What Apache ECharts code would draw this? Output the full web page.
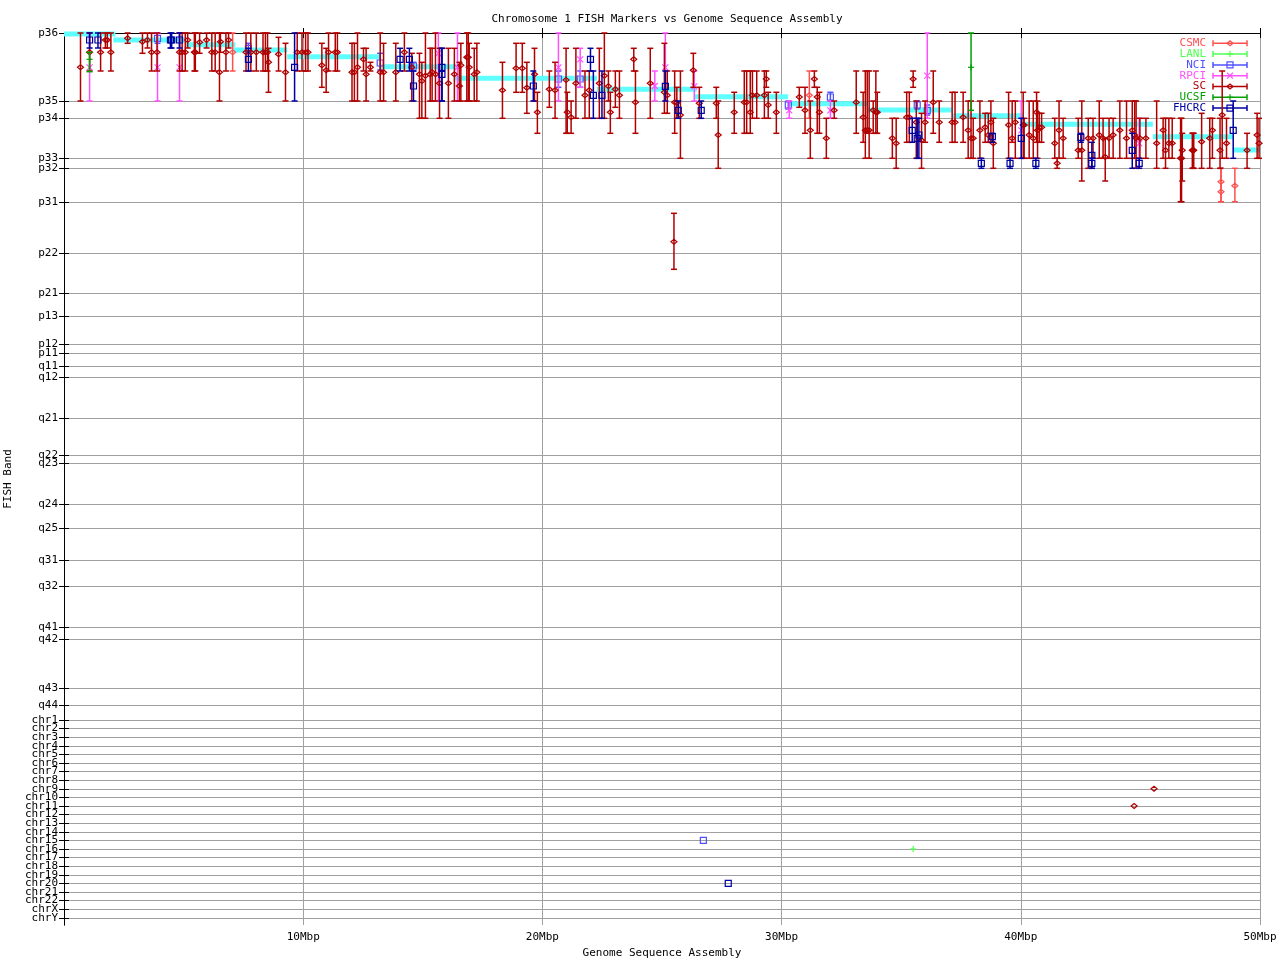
<!DOCTYPE html>
<html><head><meta charset="utf-8">
<script src="https://cdn.jsdelivr.net/npm/echarts@6/dist/echarts.min.js"></script>
<style>html,body{margin:0;padding:0;background:#fff}#c{width:1280px;height:960px}</style>
</head><body><div id="c"></div>
<script>
// ---- axis definitions ----
const bandNames = ['p36','p35','p34','p33','p32','p31','p22','p21','p13','p12','p11','q11','q12','q21','q22','q23','q24','q25','q31','q32','q41','q42','q43','q44',
  'chr1','chr2','chr3','chr4','chr5','chr6','chr7','chr8','chr9','chr10','chr11','chr12','chr13','chr14','chr15','chr16','chr17','chr18','chr19','chr20','chr21','chr22','chrX','chrY'];
const bandPos = [0,68,85,125,135,169,220,260,283,311,320,333,344,385,422,430,471,495,527,553,594,606,655,672,
  687,695.6,704.2,712.8,721.4,730,738.6,747.2,755.8,764.4,773,781.6,790.2,798.8,807.4,816,824.6,833.2,841.8,850.4,859,867.6,876.2,884.8];
const bandMax = 892;
const xTicks = [10,20,30,40,50];

// ---- assembly band assignment (x0 Mbp, x1 Mbp, band position) ----
const assemblySteps = [
  [0,2.15,1],[2.06,5.07,7],[5.07,7.16,11.7],[7.08,9.33,17],[9.33,13.22,23.7],[13.22,16.56,33.7],
  [16.35,22.28,45.3],[22.28,26.45,56.3],[26.38,30.27,63.7],[30.27,33.61,70.7],[33.61,37.12,77],
  [37.12,40.09,82.7],[40.09,45.52,91.3],[45.52,48.86,103.7],[48.86,50,117]
];

// ---- FISH markers: [position Mbp, band, band low, band high] ----
const csmcData = [[7.05,19.3,0,38],[31.16,62.3,38,85.3],[48.37,148.7,135.3,168.7],[48.37,158.7,135.3,168.7],[48.95,152.7,135.3,168.7]];
const lanlData = [[35.50,816,816,816]];
const nciData = [[3.91,5.3,0,10.3],[7.71,15.3,10.3,20.3],[13.22,30,20.3,37],[14.61,33,29.3,38],[20.67,46,38,54.3],[21.58,46,38,54.3],
  [30.28,72,68,76],[32.04,64,59.3,68],[35.67,72,68,76],[36.09,77.3,72,82],[26.73,807.4,807.4,807.4]];
const rpciData = [[1.07,34.3,0,68],[3.91,34.3,0,68],[4.83,34.3,0,68],[15.65,20.3,0,68],[16.45,34.3,0,68],[20.67,34.3,0,68],
  [21.58,26.3,15.3,54.3],[24.70,53,38,68],[25.14,34.3,0,68],[26.35,53.3,38,68],[30.32,77.3,68,85.3],[32.04,77.3,68,85.3],
  [36.09,42.7,0,85.3],[40.02,97.3,68,125.3],[44.95,110.3,85.3,135.3]];
const scData = [
  [0.69,34.3,0,68],[1.07,19.3,0,38],[1.53,19.3,0,38],[1.73,7,0,15],[1.81,7,0,15],[1.96,19.3,0,38],[2.66,5.3,0,10.3],
  [3.28,8.7,0,20.3],[3.49,7,0,15],[3.66,19.3,0,38],[3.89,19.3,0,38],[4.83,19.3,0,38],[4.94,19.3,0,38],[5.07,19.3,0,38],
  [5.17,7,0,15],[5.45,19.3,0,38],[5.49,19.3,0,38],[5.67,9.3,0,20.3],[5.96,7,0,15],[6.18,19.3,0,38],[6.32,19.3,0,38],
  [6.50,39.3,0,68],[6.54,8.7,0,19.3],[6.77,19.3,0,38],[6.88,7,0,15],[7.61,19.3,0,38],[7.81,19.3,0,38],[8.04,19.3,0,38],
  [8.32,19.3,0,38],[8.42,19.3,0,38],[8.51,19.3,0,38],[8.55,29.3,15.3,59.3],[8.97,21.3,4.3,38],[9.26,39.3,10.3,68],
  [9.75,19.3,0,38],[9.95,19.3,0,38],[10.1,19.3,0,38],[10.2,19.3,0,38],[10.78,32.3,10.3,54.3],[10.96,37.3,15.3,59.3],
  [11.06,19.3,0,38],[11.34,19.3,0,38],[11.43,19.3,0,38],[12.04,39.3,10.3,68],[12.14,39.3,10.3,68],[12.27,34.3,0,68],
  [12.52,26.3,15.3,38],[12.63,41.3,15.3,68],[12.81,34.3,29.3,38],[13.22,39.3,0,68],[13.36,39.3,10.3,68],[13.87,39.3,10.3,68],
  [14.23,19.3,0,38],[14.54,34.3,20.3,68],[14.86,41.3,20.3,85.3],[14.96,48,29.3,85.3],[15.11,42.7,0,85.3],[15.31,41.3,15.3,68],
  [15.39,39.3,15.3,68],[15.53,41.3,0,68],[15.70,50.3,15.3,85.3],[16.07,50.3,15.3,85.3],[16.32,41.3,15.3,68],[16.53,53,29.3,68],
  [16.59,32.3,10.3,68],[16.84,24.3,0,68],[16.90,24.3,0,68],[16.94,34.3,10.3,68],[17.15,41.3,15.3,68],[17.26,39.3,10.3,68],
  [18.33,57.3,29.3,85.3],[18.90,35.3,10.3,59.3],[19.16,35.3,10.3,59.3],[19.35,54.7,29.3,80.3],[19.67,41.3,15.3,68],
  [19.79,79.3,59.3,100.3],[20.29,56.3,38,74.3],[20.53,57.3,29.3,85.3],[20.99,47,15.3,100.3],[21.04,79.3,59.3,100.3],
  [21.20,84.3,68,100.3],[21.40,50.3,15.3,85.3],[21.78,62.3,38,85.3],[21.96,57.3,38,85.3],[22.38,50.3,15.3,85.3],
  [22.59,42.7,0,85.3],[22.76,53.3,38,68],[22.84,79.3,59.3,100.3],[23.05,56.3,38,74.3],[23.22,62.3,38,85.3],
  [23.82,26.3,15.3,38],[23.89,69.3,38,100.3],[24.51,50.3,15.3,85.3],[25.10,59.3,10.3,80.3],[25.22,62.3,38,80.3],
  [25.50,208.7,180.3,236.3],[25.53,69.3,38,100.3],[25.62,69.7,54.3,85.3],[25.77,82,38,125.3],[26.31,37.3,20.3,54.3],
  [26.56,70.3,54.3,85.3],[27.27,70.3,54.3,85.3],[27.35,102,68,135.3],[28.02,79.3,59.3,100.3],[28.44,69.3,38,100.3],
  [28.54,69.3,38,100.3],[28.69,79.3,38,100.3],[28.78,62.3,38,85.3],[28.96,62.3,38,85.3],[29.28,62.3,38,85.3],
  [29.36,46,38,54.3],[29.44,72,59.3,85.3],[29.78,79.3,59.3,100.3],[30.74,64,54.3,74.3],[30.98,77.3,54.3,100.3],
  [31.20,97.3,68,125.3],[31.37,46,38,54.3],[31.49,64,54.3,100.3],[31.58,79.3,59.3,100.3],[31.87,105.3,85.3,125.3],
  [32.20,77.3,68,85.3],[33.12,69.3,38,100.3],[33.41,84.3,59.3,109.3],[33.50,97.3,38,125.3],[33.58,97.3,38,100.3],
  [33.66,97.3,38,125.3],[33.83,77.3,68,100.3],[33.94,79.3,38,100.3],[34.00,79.3,59.3,100.3],[34.63,105.3,85.3,125.3],
  [34.79,110.3,85.3,135.3],[35.23,84.3,59.3,109.3],[35.34,84.3,59.3,109.3],[35.50,46,38,54.3],[35.63,89.3,68,125.3],
  [35.85,107.3,80.3,135.3],[36.00,89.3,68,109.3],[36.34,69.3,38,100.3],[36.59,89.3,68,109.3],[37.13,89.3,59.3,109.3],
  [37.25,89.3,59.3,109.3],[37.59,84.3,59.3,109.3],[37.80,97.3,68,125.3],[37.92,105.3,68,125.3],[38.01,105.3,85.3,125.3],
  [38.29,97.3,68,125.3],[38.51,94.3,80.3,109.3],[38.64,102,80.3,109.3],[38.75,89.3,68,109.3],[38.85,110.3,85.3,135.3],
  [39.49,92,59.3,125.3],[39.64,105.3,68,109.3],[39.77,89.3,68,125.3],[40.10,92,59.3,125.3],[40.14,92,85.3,125.3],
  [40.35,102,68,125.3],[40.52,105.3,68,125.3],[40.66,79.3,59.3,109.3],[40.70,97.3,68,125.3],[40.77,94.3,80.3,109.3],
  [40.87,94.3,80.3,109.3],[41.42,110.3,85.3,125.3],[41.52,130.3,125.3,135.3],[41.60,97.3,68,125.3],[41.77,105.3,85.3,125.3],
  [42.40,117.3,85.3,125.3],[42.55,117.3,68,148],[42.82,105.3,85.3,135.3],[43.02,105.3,85.3,125.3],[43.28,102,68,125.3],
  [43.44,105.3,85.3,125.3],[43.53,124,105.3,148],[43.69,105.3,85.3,125.3],[43.86,102,85.3,125.3],[44.14,97.3,68,125.3],
  [44.42,105.3,68,125.3],[44.66,97.3,68,125.3],[44.76,102,68,125.3],[44.82,105.3,68,135.3],[44.98,105.3,85.3,125.3],
  [45.23,105.3,85.3,125.3],[45.68,110.3,68,135.3],[45.95,97.3,85.3,125.3],[46.05,117.3,85.3,135.3],[46.19,110.3,85.3,125.3],
  [46.33,110.3,85.3,125.3],[46.68,125.3,85.3,168.7],[46.72,125.3,85.3,168.7],[46.75,117.3,100.3,148],[47.17,117.3,100.3,135.3],
  [47.20,117.3,100.3,135.3],[47.23,117.3,100.3,135.3],[47.56,108.7,80.3,135.3],[47.90,105.3,85.3,135.3],[48.01,97.3,85.3,125.3],
  [48.33,117.3,85.3,135.3],[48.42,82,38,125.3],[48.60,110.3,85.3,125.3],[49.46,117.3,100.3,135.3],[49.88,102,80.3,125.3],
  [49.96,110.3,85.3,125.3],[44.74,773,773,773],[45.57,755.8,755.8,755.8]
];
const ucsfData = [[1.07,26.3,19.3,38.7],[37.92,34.3,0,77.3]];
const fhcrcData = [[1.07,7,0,15],[1.42,7,0,15],[4.45,7,0,15],[4.50,7,0,15],[4.83,7,0,15],[7.71,26.3,15.3,38],[9.64,34.3,0,68],
  [14.05,26.3,15.3,38],[14.44,26.3,15.3,38],[14.61,53,38,68],[15.80,34.3,15.3,68],[15.80,41.3,15.3,68],[19.62,53,38,68],
  [22.01,26.3,15.3,38],[22.13,62.3,38,85.3],[22.49,62.3,38,85.3],[25.14,53.3,38,68],[25.68,77.3,68,85.3],[26.64,77.3,68,85.3],
  [35.46,97.3,85.3,109.3],[35.67,105.3,85.3,125.3],[35.74,102,85.3,125.3],[38.35,130.3,125.3,135.3],[38.81,103.7,100.3,109.3],
  [39.55,130.3,125.3,135.3],[40.02,105.3,85.3,125.3],[40.63,130.3,125.3,135.3],[42.51,104.3,100.3,109.3],[42.97,122.3,109.3,135.3],
  [42.97,130.3,125.3,135.3],[44.66,117.3,100.3,135.3],[44.95,130.3,125.3,135.3],[48.88,97.3,68,125.3],[27.77,850.4,850.4,850.4]];

const seriesNames = ['CSMC','LANL','NCI','RPCI','SC','UCSF','FHCRC'];
const seriesColors = ['#ff5050','#50ff50','#5050ff','#ff50ff','#b00000','#00a000','#0000a0'];
const seriesSymbols = ['diamond','plus','square','cross','diamond','plus','square'];
const seriesData = [csmcData, lanlData, nciData, rpciData, scData, ucsfData, fhcrcData];

const FONT = '"DejaVu Sans Mono", "Liberation Mono", monospace';
const BAR_W = 1.5, CAP = 3;

function marker(sym, cx, cy, color) {
  const st = {stroke: color, fill: 'none', lineWidth: 1.2};
  if (sym === 'diamond') return [{type:'polygon', shape:{points:[[cx-3,cy],[cx,cy-2.5],[cx+3,cy],[cx,cy+2.5]]}, style:st}];
  if (sym === 'square') return [{type:'rect', shape:{x:cx-3, y:cy-3, width:6, height:6}, style:st}];
  if (sym === 'cross') return [
    {type:'line', shape:{x1:cx-3,y1:cy-3,x2:cx+3,y2:cy+3}, style:st},
    {type:'line', shape:{x1:cx-3,y1:cy+3,x2:cx+3,y2:cy-3}, style:st}];
  return [
    {type:'line', shape:{x1:cx-3,y1:cy,x2:cx+3,y2:cy}, style:st},
    {type:'line', shape:{x1:cx,y1:cy-3,x2:cx,y2:cy+3}, style:st}];
}

function errRender(sym, color) {
  return function (params, api) {
    const x = api.value(0), mid = api.value(1), lo = api.value(2), hi = api.value(3);
    const pM = api.coord([x, mid]);
    const children = [];
    const st = {stroke: color, lineWidth: BAR_W};
    if (hi !== lo) {
      const pL = api.coord([x, lo]), pH = api.coord([x, hi]);
      children.push({type:'line', shape:{x1:pL[0], y1:pL[1], x2:pH[0], y2:pH[1]}, style:st});
      children.push({type:'line', shape:{x1:pL[0]-CAP, y1:pL[1], x2:pL[0]+CAP, y2:pL[1]}, style:st});
      children.push({type:'line', shape:{x1:pH[0]-CAP, y1:pH[1], x2:pH[0]+CAP, y2:pH[1]}, style:st});
    }
    return {type:'group', children: children.concat(marker(sym, pM[0], pM[1], color))};
  };
}

const series = [{
  type:'custom', name:'assembly', z:1, silent:true,
  data: assemblySteps,
  encode:{x:[0,1], y:2},
  renderItem: function (params, api) {
    const a = api.coord([api.value(0), api.value(2)]);
    const b = api.coord([api.value(1), api.value(2)]);
    return {type:'line', shape:{x1:a[0], y1:a[1], x2:b[0], y2:b[1]}, style:{stroke:'#60ffff', lineWidth:5}};
  }
}];
seriesNames.forEach(function (n, i) {
  series.push({type:'custom', name:n, z:2+i, data: seriesData[i], encode:{x:0, y:[1,2,3]},
    renderItem: errRender(seriesSymbols[i], seriesColors[i])});
});

// legend drawn in gnuplot style
const legendEls = [];
seriesNames.forEach(function (n, i) {
  const y = 43.3 + i * 10.8, c = seriesColors[i];
  const st = {stroke:c, lineWidth:BAR_W};
  legendEls.push({type:'text', x:1206, y:y, style:{text:n, fill:c, font:'11px ' + FONT, textAlign:'right', textVerticalAlign:'middle'}});
  legendEls.push({type:'line', shape:{x1:1213, y1:y, x2:1247, y2:y}, style:st});
  legendEls.push({type:'line', shape:{x1:1213, y1:y-CAP, x2:1213, y2:y+CAP}, style:st});
  legendEls.push({type:'line', shape:{x1:1247, y1:y-CAP, x2:1247, y2:y+CAP}, style:st});
  marker(seriesSymbols[i], 1230, y, c).forEach(function (m) { legendEls.push(m); });
});

const txt = {fontFamily: FONT, fontSize: 11, color:'#000'};
const bandLabel = function (v) {
  let best = 0;
  for (let i = 1; i < bandPos.length; i++) if (Math.abs(bandPos[i]-v) < Math.abs(bandPos[best]-v)) best = i;
  return Math.abs(bandPos[best] - v) < 0.5 ? bandNames[best] : '';
};
// label positions: every band plus an empty guard label at the axis end
const labelValues = bandPos.concat([bandMax]);

const option = {
  animation: false,
  backgroundColor: '#fff',
  title: {text:'Chromosome 1 FISH Markers vs Genome Sequence Assembly', left:662, top:9, textAlign:'center',
    textStyle:{fontFamily:FONT, fontSize:11, fontWeight:'normal', color:'#000'}},
  grid: {left:64, top:33, width:1196, height:892, containLabel:false, outerBoundsMode:'none'},
  xAxis: [{
    type:'value', min:0, max:50, position:'bottom',
    name:'Genome Sequence Assembly', nameLocation:'middle', nameGap:23, nameTextStyle:txt,
    axisLine:{show:true, lineStyle:{color:'#000', width:1}},
    axisTick:{show:true, inside:true, length:5, customValues:xTicks, lineStyle:{color:'#000'}},
    axisLabel:{customValues:xTicks, formatter:function (v) { return v + 'Mbp'; }, margin:7, fontFamily:FONT, fontSize:11, color:'#000', showMaxLabel:true},
    splitLine:{show:true, lineStyle:{color:'#a0a0a0', width:1}}
  }, {
    type:'value', min:0, max:50, position:'top',
    axisLine:{show:true, lineStyle:{color:'#000', width:1}},
    axisTick:{show:true, inside:true, length:5, customValues:xTicks, lineStyle:{color:'#000'}},
    axisLabel:{show:false}, splitLine:{show:false}
  }],
  yAxis: [{
    type:'value', inverse:true, min:0, max:bandMax, position:'left',
    name:'FISH Band', nameLocation:'middle', nameGap:47, nameTextStyle:txt,
    axisLine:{show:true, lineStyle:{color:'#000', width:1}},
    axisTick:{show:true, inside:true, length:5, customValues:bandPos, lineStyle:{color:'#000'}},
    axisLabel:{customValues:labelValues, formatter:bandLabel, margin:6, fontFamily:FONT, fontSize:11, color:'#000',
      hideOverlap:false, showMinLabel:true},
    splitLine:{show:true, lineStyle:{color:'#a0a0a0', width:1}}
  }, {
    type:'value', inverse:true, min:0, max:bandMax, position:'right',
    axisLine:{show:true, lineStyle:{color:'#000', width:1}},
    axisTick:{show:true, inside:true, length:5, customValues:bandPos, lineStyle:{color:'#000'}},
    axisLabel:{show:false}, splitLine:{show:false}
  }],
  graphic: [{type:'group', z:100, children: legendEls}],
  series: series
};

const chart = echarts.init(document.getElementById('c'), null, {renderer:'canvas'});
chart.setOption(option);
</script>
</body></html>
